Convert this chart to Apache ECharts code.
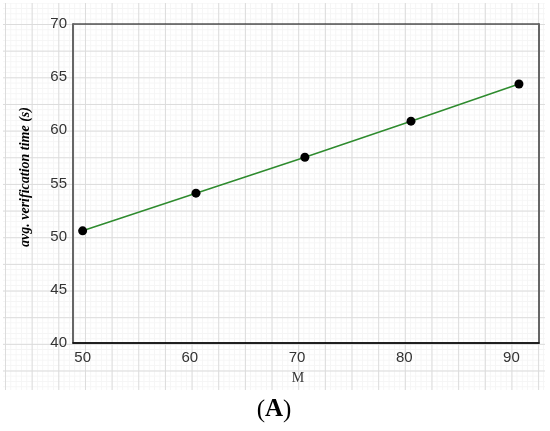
<!DOCTYPE html>
<html>
<head>
<meta charset="utf-8">
<script src="https://cdn.jsdelivr.net/npm/echarts@6/dist/echarts.min.js"></script>
<style>
  html, body { margin: 0; padding: 0; background: #fff; }
  #paper {
    position: absolute; left: 3px; top: 3px; width: 542px; height: 387px;
    background-image:
      linear-gradient(to right, #dcdcdc 1px, transparent 1px),
      linear-gradient(to bottom, #dcdcdc 1px, transparent 1px),
      linear-gradient(to right, #f5f5f5 1px, transparent 1px),
      linear-gradient(to bottom, #f5f5f5 1px, transparent 1px);
    background-size: 26.667px 26.667px, 26.667px 26.667px, 5.333px 5.333px, 5.333px 5.333px;
    background-position: 2px 0, 0 21px, 2px 0, 0 21px;
  }
  #chart { position: absolute; left: 0; top: 0; width: 550px; height: 431px; }
</style>
</head>
<body>
<div id="paper"></div>
<div id="chart"></div>
<script>
// values
const mValues = [50, 60.57, 70.73, 80.63, 90.7]
const timeValues = [50.55, 54.09, 57.47, 60.86, 64.36]
const xTicks = [50, 60, 70, 80, 90]

const labelFont = 'Arial, "Liberation Sans", sans-serif'
const serifFont = '"Times New Roman", "Liberation Serif", serif'

const chart = echarts.init(document.getElementById('chart'))

chart.setOption({
  backgroundColor: 'transparent',
  animation: false,
  grid: {
    left: 73,
    top: 24,
    right: 11,
    bottom: 88,
    show: true,
    borderColor: '#000',
    borderWidth: 1,
  },
  xAxis: {
    type: 'value',
    min: 49.1,
    max: 92.57,
    axisLine: { show: true, lineStyle: { color: '#000', width: 1.5 } },
    axisTick: { show: false },
    splitLine: { show: false },
    axisLabel: {
      customValues: xTicks,
      color: '#333',
      fontSize: 15,
      fontFamily: labelFont,
      margin: 7,
    },
  },
  yAxis: [
    {
      type: 'value',
      min: 40,
      max: 70,
      interval: 5,
      axisLine: { show: true, lineStyle: { color: '#666', width: 2 } },
      axisTick: { show: false },
      splitLine: { show: false },
      axisLabel: {
        color: '#333',
        fontSize: 15,
        fontFamily: labelFont,
        margin: 6,
      },
    },
    {
      type: 'value',
      position: 'right',
      min: 40,
      max: 70,
      axisLine: { show: true, lineStyle: { color: '#666', width: 2 } },
      axisTick: { show: false },
      axisLabel: { show: false },
      splitLine: { show: false },
    },
  ],
  graphic: [
    {
      type: 'text',
      x: 25,
      y: 177,
      rotation: Math.PI / 2,
      style: {
        text: 'avg. verification time (s)',
        fill: '#000',
        font: 'italic bold 14px ' + serifFont,
        align: 'center',
        verticalAlign: 'middle',
      },
    },
    {
      type: 'text',
      x: 298,
      y: 378,
      style: {
        text: 'M',
        fill: '#333',
        font: '14px ' + serifFont,
        align: 'center',
        verticalAlign: 'middle',
      },
    },
    {
      type: 'text',
      x: 274,
      y: 410,
      style: {
        text: '{p|(}{b|A}{p|)}',
        align: 'center',
        verticalAlign: 'middle',
        rich: {
          p: { fontSize: 25, fontFamily: serifFont, fill: '#000' },
          b: { fontSize: 25, fontFamily: serifFont, fontWeight: 'bold', fill: '#000' },
        },
      },
    },
  ],
  series: [
    {
      type: 'line',
      data: mValues.map((m, i) => [m, timeValues[i]]),
      lineStyle: { color: '#2e8b2e', width: 1.5 },
      itemStyle: { color: '#000' },
      symbol: 'circle',
      symbolSize: 9,
    },
  ],
})
</script>
</body>
</html>
